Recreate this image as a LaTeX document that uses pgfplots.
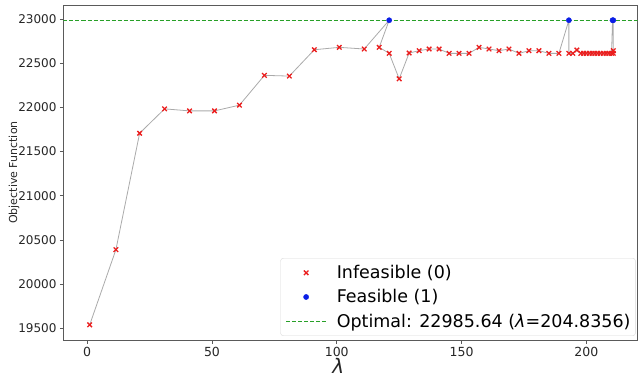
\documentclass[border=0pt]{standalone}
\usepackage{pgfplots}
\pgfplotsset{compat=1.18}
\usepackage{fontspec}
\setmainfont{DejaVu Sans}
\definecolor{ptred}{RGB}{235,30,30}
\definecolor{ptblue}{RGB}{10,30,230}
\definecolor{optgreen}{RGB}{40,160,40}
\definecolor{conn}{RGB}{170,170,170}
\definecolor{spine}{RGB}{90,90,90}
\begin{document}
\begin{tikzpicture}
\begin{axis}[
  width=574pt, height=335pt, scale only axis,
  xmin=-9.5, xmax=220.5, ymin=19368, ymax=23158,
  xtick={0,50,100,150,200},
  ytick={19500,20000,20500,21000,21500,22000,22500,23000},
  scaled y ticks=false, scaled x ticks=false,
  tick align=outside, tick pos=left,
  major tick length=3.5pt,
  tick style={spine, line width=0.8pt},
  axis line style={spine, line width=0.9pt},
  /pgf/number format/1000 sep={},
  /pgf/number format/assume math mode=true,
  yticklabel style={font=\fontsize{12}{14}\selectfont, text=black!85, /pgf/number format/fixed, /pgf/number format/precision=0},
  xticklabel style={font=\fontsize{12.5}{15}\selectfont, text=black!85},
  ylabel={Objective Function},
  ylabel style={font=\fontsize{11}{13}\selectfont, text=black!85, inner sep=0pt, at={(axis description cs:-0.086,0.5)}, anchor=center},
  xlabel={{\itshape λ}},
  xlabel style={font=\fontsize{20}{22}\selectfont, text=black!85, inner sep=0pt, at={(axis description cs:0.4787,-0.055)}, anchor=north},
  legend cell align=left,
  legend image code/.code={\draw[mark repeat=2,mark phase=2,#1] plot coordinates {(0pt,0pt) (20pt,0pt) (40pt,0pt)}; \path (-1pt,0pt) (49pt,0pt);},
  legend style={at={(rel axis cs:0.997,0.012)}, anchor=south east,
    font=\fontsize{17.5}{21}\selectfont, draw=gray!30, fill=white,
    rounded corners=3pt, inner xsep=4pt, inner ysep=2.5pt, row sep=0pt,
    nodes={inner xsep=1pt, inner ysep=4.7pt}},
]
\coordinate (bl) at (rel axis cs:0,0);
\coordinate (tr) at (rel axis cs:1,1);
\addplot[conn, line width=0.8pt, forget plot] coordinates {
(1,19540) (11.5,20390) (21,21707) (31,21983) (41,21960) (51,21960) (61,22025)
(71,22362) (81,22354) (91,22652) (101,22679) (111,22660) (121,22985.64)
(117,22679) (121,22611) (125,22323) (129,22615) (133,22641) (137,22660)
(141,22660) (145,22611) (149,22611) (153,22611) (157,22679) (161,22660)
(165,22641) (169,22660) (173,22611) (177,22641) (181,22641) (185,22611)
(189,22611) (193,22985.64) (193,22611) (194.6,22611) (196.2,22649)
(197.8,22611) (198.9,22611) (200.0,22611) (201.2,22611) (202.3,22611)
(203.4,22611) (204.5,22611) (205.6,22611) (206.8,22611) (207.9,22611)
(209.0,22611) (210.1,22611) (210.5,22985.64) (210.8,22985.64) (210.8,22641)
};
\addplot[only marks, mark=x, mark size=3.2pt, ptred, line width=1.3pt] coordinates {
(1,19540) (11.5,20390) (21,21707) (31,21983) (41,21960) (51,21960) (61,22025)
(71,22362) (81,22354) (91,22652) (101,22679) (111,22660)
(117,22679) (121,22611) (125,22323) (129,22615) (133,22641) (137,22660)
(141,22660) (145,22611) (149,22611) (153,22611) (157,22679) (161,22660)
(165,22641) (169,22660) (173,22611) (177,22641) (181,22641) (185,22611)
(189,22611) (193,22611) (194.6,22611) (196.2,22649)
(197.8,22611) (198.9,22611) (200.0,22611) (201.2,22611) (202.3,22611)
(203.4,22611) (204.5,22611) (205.6,22611) (206.8,22611) (207.9,22611)
(209.0,22611) (210.1,22611) (210.8,22641) (210.8,22611)
};
\addlegendentry{Infeasible (0)}
\addplot[only marks, mark=*, mark size=2.6pt, ptblue] coordinates {
(121,22985.64) (193,22985.64) (210.5,22985.64) (210.8,22985.64)
};
\addlegendentry{Feasible (1)}
\addplot[optgreen, line width=1.2pt, dash pattern=on 4pt off 2pt] coordinates {(-9.5,22985.64) (220.5,22985.64)};
\addlegendentry{Optimal: 22985.64 ({\itshape λ}=204.8356)}
\end{axis}
\pgfresetboundingbox
\path ([shift={(-63.5pt,-39pt)}]bl) rectangle ([shift={(6.5pt,5pt)}]tr);
\end{tikzpicture}
\end{document}
